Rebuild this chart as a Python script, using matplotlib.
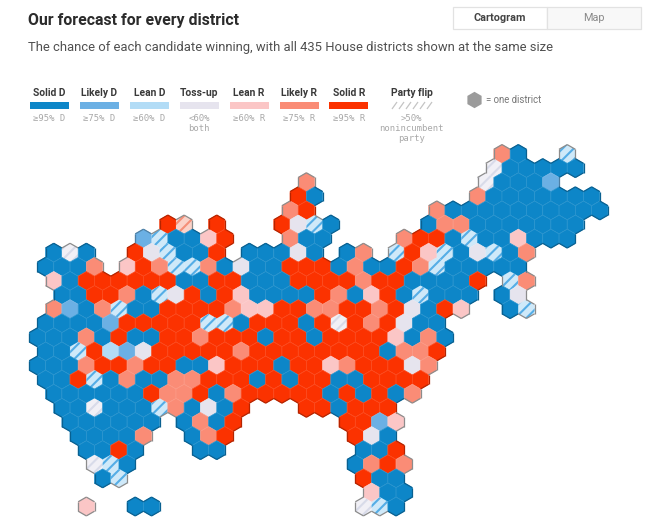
# House forecast cartogram, one hexagon per district
import math
import matplotlib
matplotlib.use('Agg')
import matplotlib.pyplot as plt
from matplotlib.colors import to_rgb
from matplotlib.patches import Polygon, Rectangle
from matplotlib.collections import LineCollection

plt.rcParams['font.family'] = ['Roboto', 'DejaVu Sans']
plt.rcParams['hatch.linewidth'] = 1.5

TITLE = 'Our forecast for every district'
SUBTITLE = 'The chance of each candidate winning, with all 435 House districts shown at the same size'
TABS = ['Cartogram', 'Map']

LEGEND_LABELS = ['Solid D', 'Likely D', 'Lean D', 'Toss-up', 'Lean R', 'Likely R', 'Solid R']
LEGEND_NOTES = ['≥95% D', '≥75% D', '≥60% D', '<60%\nboth', '≥60% R', '≥75% R', '≥95% R']
LEGEND_CODES = ['a', 'b', 'c', 't', 'd', 'e', 'f']

# a..f, t are the rating, capitals are the same rating with the party flip hatch
COLORS = {'a': '#0d86c8', 'b': '#6bb0e4', 'c': '#b2dcf6', 't': '#e6e4ee',
          'd': '#fbc6c6', 'e': '#fa8c76', 'f': '#fb3200'}
HATCHED = {'C': ('#cfe9f9', '#55ade6'), 'T': ('#f1f0f6', '#d8dbe9'), 'E': ('#fbd2c8', '#f58f78')}

# one entry per map row: (first column, ratings), space = no district
DISTRICT_ROWS = [
    [(29, 'ea  C')],
    [(28, 'Taaaaa')],
    [(17, 'e'), (28, 'Taaab')],
    [(16, 'fa'), (27, 'eaaaaaaa')],
    [(16, 'ef'), (25, 'eaaaaaaaaaa')],
    [(8, 'fE f'), (15, 'ftCa'), (24, 'aeeaaaaaaa')],
    [(7, 'bCaadf'), (16, 'eaa'), (23, 'effaCaadaaa')],
    [(1, 'aTa'), (6, 'ftCaaf'), (13, 'aaata'), (19, 'ae'), (22, 'CfdCatCae')],
    [(1, 'aaae'), (6, 'dfeCCeataafffaeaafeCaaaaa')],
    [(1, 'daffffffaaffaaaffffeffaaaaf Ce')],
    [(2, 'aaffeaCtfafdaaaafeadfaCaaa at')],
    [(1, 'ebaeCaaffffeddffeeffeftafd  aC')],
    [(1, 'aaaabfffffCCafffafTfeftaa')],
    [(0, 'aaaeafaaffefffaffaffffdaea')],
    [(1, 'aaCfcbtfffffeffffffffaeef')],
    [(0, 'aaaeffeffaadfffaffdefffte')],
    [(1, 'aafCaeaaeefffafaffaaffff')],
    [(1, 'aaaaaafeefaefffffafafae')],
    [(2, 'aaTaaaCeataf'), (17, 'ffafff')],
    [(2, 'aaaaaa'), (9, 'aeaf'), (19, 'ffbd')],
    [(3, 'aaaae'), (10, 'aef'), (20, 'fta')],
    [(3, 'aafa'), (10, 'aa'), (20, 'aaf')],
    [(4, 'TCa'), (20, 'aefe')],
    [(4, 'aC'), (20, 'faa')],
    [(21, 'daa')],
    [(3, 'd'), (6, 'aa'), (20, 'TCa')],
]

GRID_X = 29.3
GRID_Y = 154.0
STEP_X = 16.3
STEP_Y = 14.1
RADIUS = STEP_X / math.sqrt(3)


def hex_center(row, col):
    return GRID_X + STEP_X * (col + 0.5 * (row % 2)), GRID_Y + STEP_Y * row


def hex_corners(cx, cy, radius):
    # pointy top, corners clockwise from the top one
    return [(cx + radius * math.sin(math.radians(60 * k)),
             cy - radius * math.cos(math.radians(60 * k))) for k in range(6)]


def load_districts():
    districts = {}
    for row, runs in enumerate(DISTRICT_ROWS):
        for start, ratings in runs:
            for i, code in enumerate(ratings):
                if code != ' ':
                    districts[(row, start + i)] = code
    return districts


# neighbour of a hexagon across the edge between corner k and corner k+1
def neighbour(row, col, k):
    shift = row % 2
    return [(row - 1, col + shift), (row, col + 1), (row + 1, col + shift),
            (row + 1, col + shift - 1), (row, col - 1), (row - 1, col + shift - 1)][k]


# inner borders are only a little lighter than the fill
def soft_edge(color):
    return tuple(c + (1 - c) * 0.12 for c in to_rgb(color))


# outer border: darker fill for the strong ratings, plain grey for the pale ones
def outer_edge(code):
    if code in ('a', 'b', 'f'):
        return tuple(c * 0.72 for c in to_rgb(COLORS[code]))
    return '#8c8c8c'


def draw_map(ax, districts):
    outline = []
    outline_colors = []
    for (row, col), code in districts.items():
        cx, cy = hex_center(row, col)
        corners = hex_corners(cx, cy, RADIUS)
        if code in HATCHED:
            face, stripe = HATCHED[code]
            ax.add_patch(Polygon(corners, facecolor=face, edgecolor=stripe, hatch='///', lw=0, zorder=2))
        else:
            ax.add_patch(Polygon(corners, facecolor=COLORS[code], edgecolor=soft_edge(COLORS[code]),
                                 lw=0.5, zorder=2))
        for k in range(6):
            if neighbour(row, col, k) not in districts:
                outline.append([corners[k], corners[(k + 1) % 6]])
                outline_colors.append(outer_edge(code))
    ax.add_collection(LineCollection(outline, colors=outline_colors, linewidths=0.9, zorder=3))


def draw_header(ax):
    ax.text(28, 20, TITLE, fontsize=11.4, fontweight='bold', color='#2b2b2b', va='center')
    ax.text(28, 48, SUBTITLE, fontsize=9.4, color='#505050', va='center')

    ax.add_patch(Rectangle((453, 7), 94, 22, facecolor='white', edgecolor='#e2e2e2', lw=0.9))
    ax.add_patch(Rectangle((547, 7), 94, 22, facecolor='#f8f8f8', edgecolor='#e2e2e2', lw=0.9))
    ax.text(500, 18, TABS[0], fontsize=7.8, fontweight='bold', color='#444444', ha='center', va='center')
    ax.text(594, 18, TABS[1], fontsize=7.8, color='#8a8a8a', ha='center', va='center')


def draw_legend(ax):
    for i, label in enumerate(LEGEND_LABELS):
        cx = 49.5 + 49.9 * i
        ax.text(cx, 93, label, fontsize=7.4, fontweight='bold', color='#3a3a3a', ha='center', va='center')
        ax.add_patch(Rectangle((cx - 19.5, 101.5), 39, 7.5, facecolor=COLORS[LEGEND_CODES[i]], lw=0))
        ax.text(cx, 114, LEGEND_NOTES[i], fontsize=6.4, family='DejaVu Sans Mono', color='#a8a8a8',
                ha='center', va='top', linespacing=1.15)

    ax.text(411.5, 93, 'Party flip', fontsize=7.4, fontweight='bold', color='#3a3a3a', ha='center', va='center')
    ticks = [[(x, 109), (x + 5, 102)] for x in range(392, 430, 7)]
    ax.add_collection(LineCollection(ticks, colors='#c4c4c4', linewidths=0.9))
    ax.text(411.5, 114, '>50%\nnonincumbent\nparty', fontsize=6.4, family='DejaVu Sans Mono', color='#a8a8a8',
            ha='center', va='top', linespacing=1.15)

    ax.add_patch(Polygon(hex_corners(474.5, 100, 8.2), facecolor='#9b9b9b', lw=0))
    ax.text(486, 100, '= one district', fontsize=6.9, color='#777777', va='center')


def main():
    fig = plt.figure(figsize=(6.5, 5.28), dpi=100)
    ax = fig.add_axes([0, 0, 1, 1])
    ax.set_xlim(0, 650)
    ax.set_ylim(528, 0)
    ax.axis('off')

    draw_header(ax)
    draw_legend(ax)
    draw_map(ax, load_districts())

    fig.savefig('out.png', dpi=100, facecolor='white')
    plt.close(fig)


if __name__ == '__main__':
    main()
